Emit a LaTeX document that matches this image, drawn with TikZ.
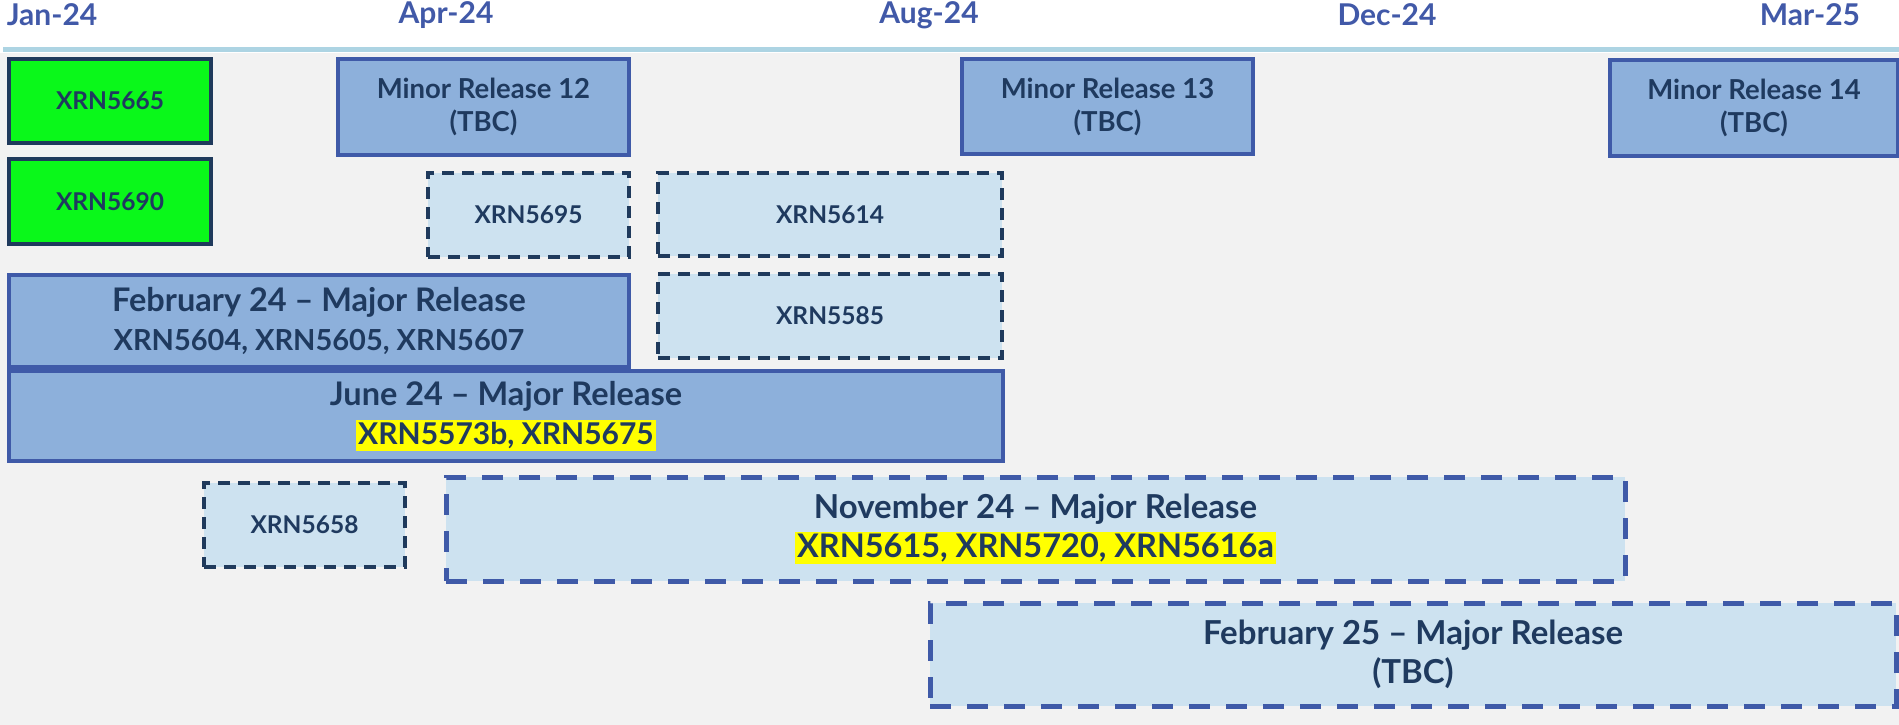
\documentclass[tikz,border=0pt]{standalone}
\usepackage{fontspec}
\setmainfont{Lato}
\definecolor{datecol}{HTML}{4159A8}
\definecolor{txtnavy}{HTML}{1F3A5F}
\definecolor{relfill}{HTML}{8DB0DB}
\definecolor{relline}{HTML}{3F5AA8}
\definecolor{donefill}{HTML}{0AF81A}
\definecolor{plainnavy}{HTML}{1F3A5C}
\definecolor{tbcfill}{HTML}{CDE2F0}
\definecolor{hlyellow}{HTML}{FFFF00}
\definecolor{bggray}{HTML}{F2F2F2}
\definecolor{tlcol}{HTML}{ADD4E3}
\newcommand{\hl}[1]{{\setlength{\fboxsep}{2pt}\colorbox{hlyellow}{#1}}}
\newcommand{\sz}[1]{\fontsize{#1}{1.2\dimexpr#1pt\relax}\selectfont}
\tikzset{
  every node/.style={font=\bfseries, text=txtnavy, align=center, outer sep=0pt, inner sep=0pt},
  datelbl/.style={text=datecol, font=\bfseries\sz{30}},
  donebox/.style={draw=plainnavy, line width=3.5pt, fill=donefill, anchor=north west,
    font=\bfseries\sz{24.5}},
  minorrel/.style={draw=relline, line width=4pt, fill=relfill, anchor=north west,
    font=\bfseries\sz{27.5}},
  majorrel/.style={draw=relline, line width=4pt, fill=relfill, anchor=north west,
    font=\bfseries\sz{32.5}},
  xrnbox/.style={draw=plainnavy, line width=3.5pt, fill=tbcfill, anchor=north west,
    dash pattern=on 12pt off 8pt, font=\bfseries\sz{24.5}},
  tbcmajor/.style={draw=relline, line width=5pt, fill=tbcfill, anchor=north west,
    dash pattern=on 21pt off 16pt, font=\bfseries\sz{33}},
}

\begin{document}
\begin{tikzpicture}[x=1pt, y=-1pt]
    \useasboundingbox (0,0) rectangle (1899,725);
    \fill[bggray] (0,53) rectangle (1899,725);
    % timeline
    \coordinate (tlstart) at (3,50);
    \coordinate (tlend) at (1899,50);
    \draw[tlcol, line width=5pt] (tlstart) -- (tlend);
    \node[datelbl] (jan24) at (52,15) {Jan-24};
    \node[datelbl] (apr24) at (446,15) {Apr-24};
    \node[datelbl] (aug24) at (929,15) {Aug-24};
    \node[datelbl] (dec24) at (1387,15) {Dec-24};
    \node[datelbl] (mar25) at (1810,15) {Mar-25};

    % delivered
    \node[donebox, minimum width=202pt, minimum height=84pt] (x5665) at (9,59) {XRN5665};
    \node[donebox, minimum width=202pt, minimum height=85pt] (x5690) at (9,159) {XRN5690};

    % minor releases
    \node[minorrel, minimum width=291pt, minimum height=96pt] (mr12) at (338,59) {Minor Release 12\\(TBC)};
    \node[minorrel, minimum width=291pt, minimum height=95pt] (mr13) at (962,59) {Minor Release 13\\(TBC)};
    \node[minorrel, minimum width=288pt, minimum height=96pt] (mr14) at (1610,60) {Minor Release 14\\(TBC)};

    % planned items
    \node[xrnbox, minimum width=201pt, minimum height=84pt] (x5695) at (428,173) {XRN5695};
    \node[xrnbox, minimum width=344pt, minimum height=83pt] (x5614) at (658,173) {XRN5614};
    \node[xrnbox, minimum width=344pt, minimum height=84pt] (x5585) at (658,274) {XRN5585};
    \node[xrnbox, minimum width=201pt, minimum height=84pt] (x5658) at (204,483) {XRN5658};

    % major releases
    \node[majorrel, minimum width=620pt, minimum height=92pt] (feb24) at (9,275)
        {February 24 -- Major Release\\\sz{29}XRN5604, XRN5605, XRN5607};
    \node[majorrel, minimum width=994pt, minimum height=90pt] (jun24) at (9,371)
        {June 24 -- Major Release\\\sz{30}\hl{XRN5573b, XRN5675}};
    \node[tbcmajor, minimum width=1179pt, minimum height=104pt] (nov24) at (446,477)
        {November 24 -- Major Release\\\sz{32.5}\hl{XRN5615, XRN5720, XRN5616a}};
    \node[tbcmajor, minimum width=966pt, minimum height=103pt] (feb25) at (930,603)
        {February 25 -- Major Release\\(TBC)};
\end{tikzpicture}
\end{document}
